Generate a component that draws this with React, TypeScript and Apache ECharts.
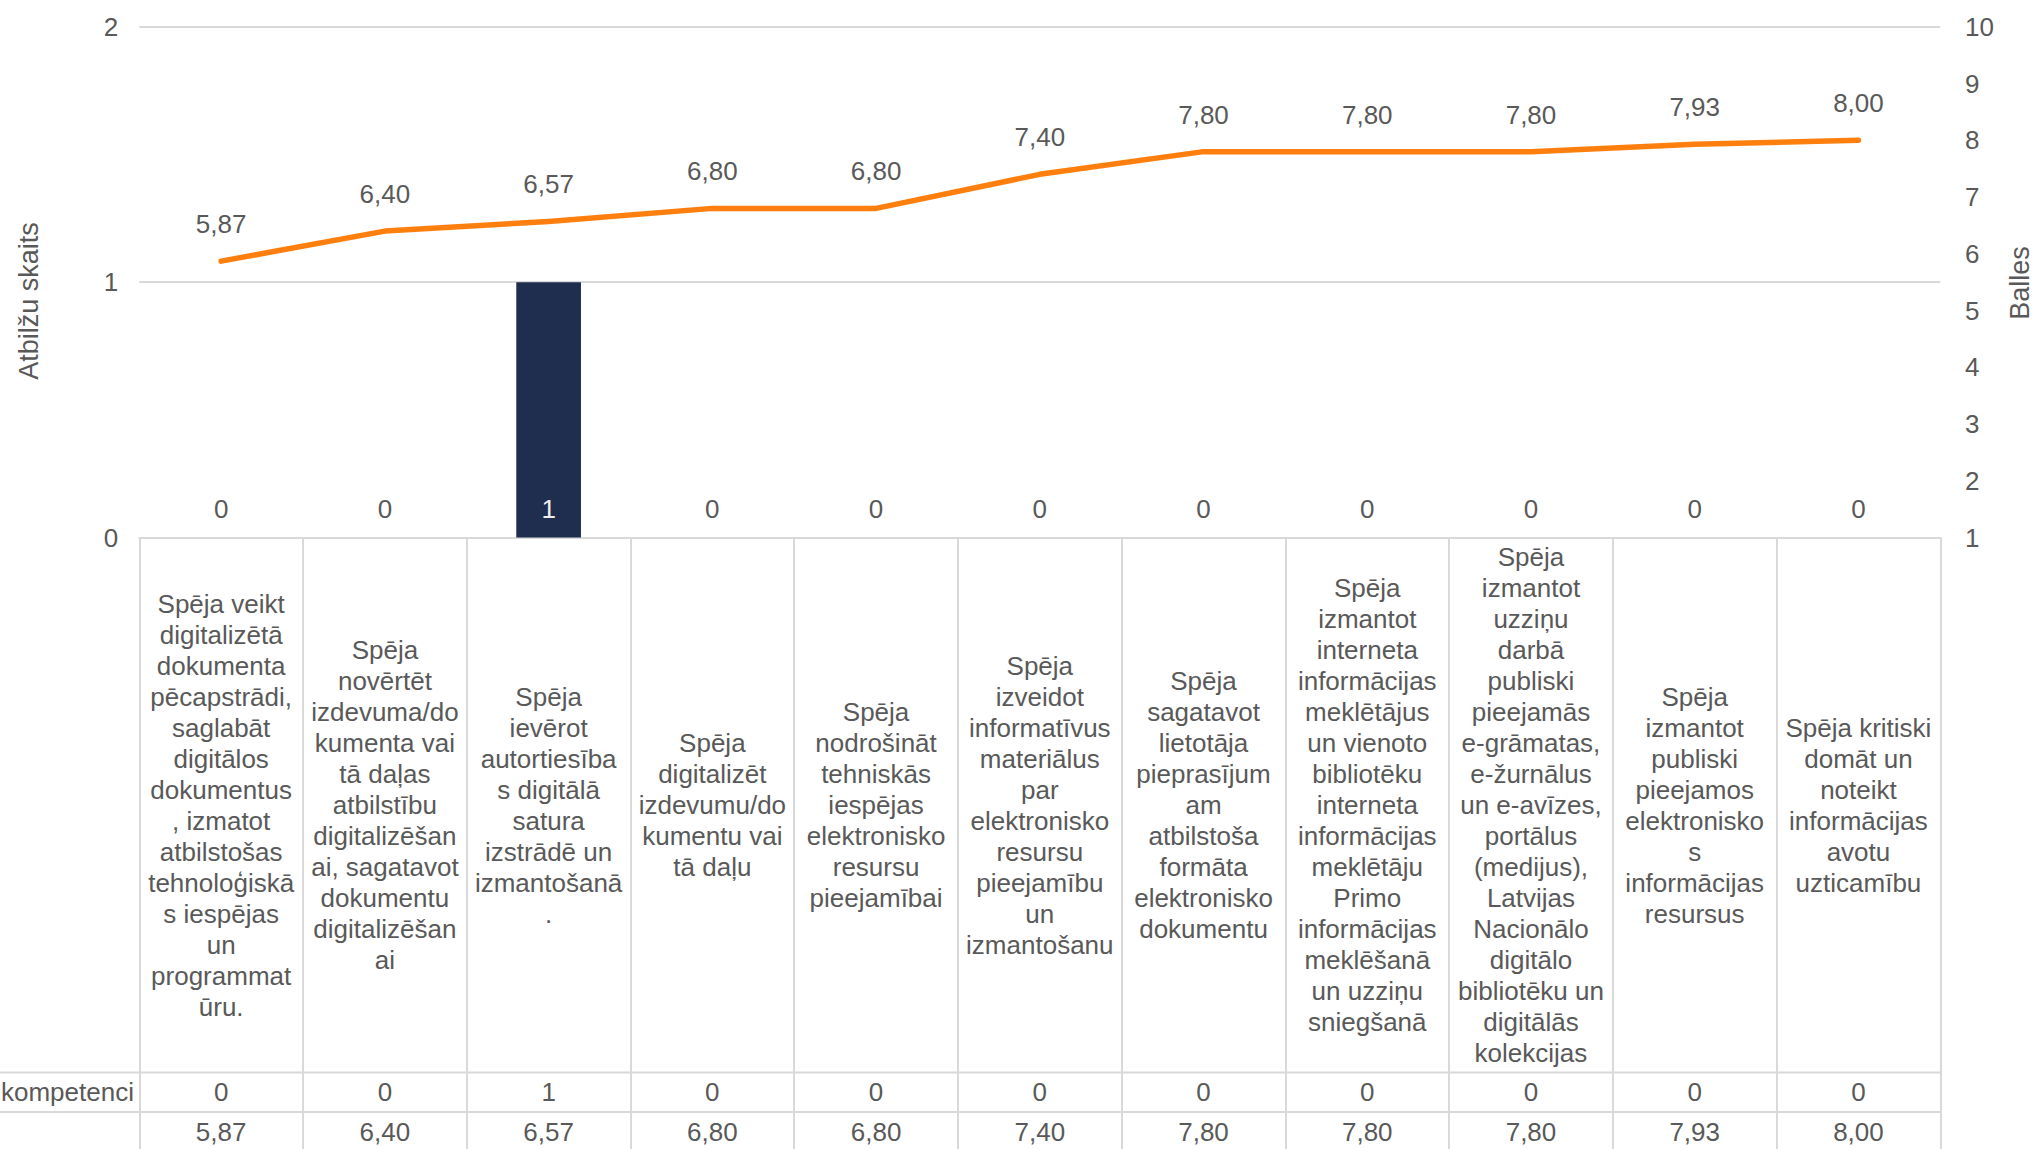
import React, { useEffect, useRef } from "react";
import * as echarts from "echarts";

const categories = [
  "Spēja veikt\ndigitalizētā\ndokumenta\npēcapstrādi,\nsaglabāt\ndigitālos\ndokumentus\n, izmatot\natbilstošas\ntehnoloģiskā\ns iespējas\nun\nprogrammat\nūru.",
  "Spēja\nnovērtēt\nizdevuma/do\nkumenta vai\ntā daļas\natbilstību\ndigitalizēšan\nai, sagatavot\ndokumentu\ndigitalizēšan\nai",
  "Spēja\nievērot\nautortiesība\ns digitālā\nsatura\nizstrādē un\nizmantošanā\n.",
  "Spēja\ndigitalizēt\nizdevumu/do\nkumentu vai\ntā daļu",
  "Spēja\nnodrošināt\ntehniskās\niespējas\nelektronisko\nresursu\npieejamībai",
  "Spēja\nizveidot\ninformatīvus\nmateriālus\npar\nelektronisko\nresursu\npieejamību\nun\nizmantošanu",
  "Spēja\nsagatavot\nlietotāja\npieprasījum\nam\natbilstoša\nformāta\nelektronisko\ndokumentu",
  "Spēja\nizmantot\ninterneta\ninformācijas\nmeklētājus\nun vienoto\nbibliotēku\ninterneta\ninformācijas\nmeklētāju\nPrimo\ninformācijas\nmeklēšanā\nun uzziņu\nsniegšanā",
  "Spēja\nizmantot\nuzziņu\ndarbā\npubliski\npieejamās\ne-grāmatas,\ne-žurnālus\nun e-avīzes,\nportālus\n(medijus),\nLatvijas\nNacionālo\ndigitālo\nbibliotēku un\ndigitālās\nkolekcijas",
  "Spēja\nizmantot\npubliski\npieejamos\nelektronisko\ns\ninformācijas\nresursus",
  "Spēja kritiski\ndomāt un\nnoteikt\ninformācijas\navotu\nuzticamību",
];

const counts = [0, 0, 1, 0, 0, 0, 0, 0, 0, 0, 0];
const scores = [5.87, 6.4, 6.57, 6.8, 6.8, 7.4, 7.8, 7.8, 7.8, 7.93, 8.0];

const leftAxisTitle = "Atbilžu skaits";
const rightAxisTitle = "Balles";
const countRowHeader = "kompetenci";

const TEXT = "#595959";
const GRIDC = "#D9D9D9";
const FONT = "'Liberation Sans', Arial, sans-serif";
const FS = 26;

const fmt = (v: number) => v.toFixed(2).replace(".", ",");

export default function App() {
  const ref = useRef<HTMLDivElement>(null);
  useEffect(() => {
    if (!ref.current) return;
    const chart = echarts.init(ref.current, null, { renderer: "svg" });
    const W = 2034;
    const H = 1149;
    const gLeft = 139.3;
    const gRight = 1940.3;
    const gTop = 26.8;
    const gBottom = 537.5;
    const row1Bottom = 1072.5;
    const row2Bottom = 1112;
    const baseLabel = {
      color: TEXT,
      fontFamily: FONT,
      fontSize: FS,
    };
    const option: any = {
      animation: false,
      backgroundColor: "#fff",
      textStyle: { fontFamily: FONT },
      grid: {
        left: gLeft,
        right: W - gRight,
        top: gTop,
        bottom: H - gBottom,
        containLabel: false,
      },
      xAxis: [
        {
          type: "category",
          data: categories,
          position: "bottom",
          axisLine: { show: true, lineStyle: { color: GRIDC, width: 2 } },
          axisTick: {
            show: true,
            alignWithLabel: false,
            interval: 0,
            inside: false,
            length: H - gBottom + 5,
            lineStyle: { color: GRIDC, width: 2 },
          },
          axisLabel: {
            ...baseLabel,
            interval: 0,
            margin: (gBottom + row1Bottom) / 2 - gBottom,
            verticalAlign: "middle",
            align: "center",
            lineHeight: 31,
          },
          splitLine: { show: false },
        },
        {
          type: "category",
          data: counts.map((v) => String(v)),
          position: "bottom",
          axisLine: { show: false },
          axisTick: { show: false },
          axisLabel: {
            ...baseLabel,
            interval: 0,
            margin: (row1Bottom + row2Bottom) / 2 - gBottom,
            verticalAlign: "middle",
          },
        },
        {
          type: "category",
          data: scores.map(fmt),
          position: "bottom",
          axisLine: { show: false },
          axisTick: { show: false },
          axisLabel: {
            ...baseLabel,
            interval: 0,
            margin: 1131.7 - gBottom,
            verticalAlign: "middle",
          },
        },
      ],
      yAxis: [
        {
          type: "value",
          min: 0,
          max: 2,
          interval: 1,
          position: "left",
          axisLine: { show: false },
          axisTick: { show: false },
          axisLabel: { ...baseLabel, margin: 21 },
          splitLine: { show: true, lineStyle: { color: GRIDC, width: 2 } },
        },
        {
          type: "value",
          min: 1,
          max: 10,
          interval: 1,
          position: "right",
          axisLine: { show: false },
          axisTick: { show: false },
          axisLabel: { ...baseLabel, margin: 24.7 },
          splitLine: { show: false },
        },
      ],
      series: [
        {
          type: "bar",
          xAxisIndex: 0,
          yAxisIndex: 0,
          barWidth: "39.5%",
          data: counts.map((v) => ({
            value: v,
            label: { color: v > 0 ? "#EEEEEE" : TEXT },
          })),
          itemStyle: { color: "#1F2D4F", borderWidth: 0 },
          label: {
            show: true,
            position: "insideBottom",
            distance: 16,
            ...baseLabel,
            lineHeight: 26,
          },
        },
        {
          type: "line",
          xAxisIndex: 0,
          yAxisIndex: 1,
          data: scores,
          symbol: "circle",
          symbolSize: 2,
          showSymbol: true,
          itemStyle: { color: "#FF7F0E" },
          lineStyle: { color: "#FF7F0E", width: 5.5, cap: "round", join: "round" },
          label: {
            show: true,
            position: "top",
            distance: 23,
            ...baseLabel,
            lineHeight: 26,
            formatter: (p: any) => fmt(p.value),
          },
        },
      ],
      graphic: [
        {
          type: "line",
          shape: { x1: 0, y1: row1Bottom, x2: gRight, y2: row1Bottom },
          style: { stroke: GRIDC, lineWidth: 2 },
        },
        {
          type: "line",
          shape: { x1: 0, y1: row2Bottom, x2: gRight, y2: row2Bottom },
          style: { stroke: GRIDC, lineWidth: 2 },
        },
        {
          type: "text",
          x: 1,
          y: (row1Bottom + row2Bottom) / 2,
          style: {
            text: countRowHeader,
            fill: TEXT,
            font: `${FS}px ${FONT}`,
            align: "left",
            verticalAlign: "middle",
          },
        },
        {
          type: "text",
          x: 29,
          y: 301,
          rotation: Math.PI / 2,
          style: {
            text: leftAxisTitle,
            fill: TEXT,
            font: `${FS + 1}px ${FONT}`,
            align: "center",
            verticalAlign: "middle",
          },
        },
        {
          type: "text",
          x: 2019.5,
          y: 283,
          rotation: Math.PI / 2,
          style: {
            text: rightAxisTitle,
            fill: TEXT,
            font: `${FS + 1}px ${FONT}`,
            align: "center",
            verticalAlign: "middle",
          },
        },
      ],
    };
    chart.setOption(option);
    return () => chart.dispose();
  }, []);
  return (
    <div
      ref={ref}
      style={{ position: "absolute", left: 0, top: 0, width: 2034, height: 1149 }}
    />
  );
}
